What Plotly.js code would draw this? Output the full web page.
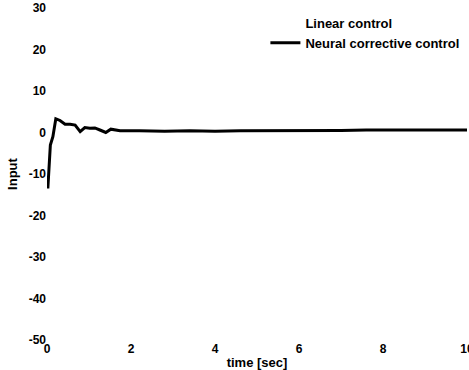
<!DOCTYPE html>
<html>
<head>
<meta charset="utf-8">
<script src="https://cdn.plot.ly/plotly-3.0.1.min.js"></script>
<style>html,body{margin:0;padding:0;background:#fff;}#chart{width:469px;height:370px;}</style>
</head>
<body>
<div id="chart"></div>
<script>
const time = [0.02, 0.05, 0.08, 0.14, 0.21, 0.31, 0.43, 0.55, 0.67, 0.79, 0.90, 1.02, 1.14, 1.26, 1.40, 1.52, 1.74, 2.2, 2.8, 3.4, 4.0, 4.6, 5.2, 5.8, 6.4, 7.0, 7.6, 8.2, 8.8, 9.4, 10.0];
const neuralInput = [-13.5, -8.5, -3, -1, 3.3, 2.9, 2.0, 2.0, 1.8, 0.2, 1.2, 1.0, 1.1, 0.6, 0.0, 0.8, 0.4, 0.4, 0.3, 0.4, 0.3, 0.4, 0.4, 0.4, 0.5, 0.5, 0.6, 0.6, 0.7, 0.7, 0.6];
const linearTime = [null];
const linearInput = [null];
const xTicks = [0, 2, 4, 6, 8, 10];
const yTicks = [-50, -40, -30, -20, -10, 0, 10, 20, 30];

const base = 'Arial, "Liberation Sans", sans-serif';
const tickF = {family: base, size: 12, color: '#000', weight: 'bold'};
const textF = {family: base, size: 13, color: '#000', weight: 'bold'};

const traces = [
  {x: linearTime, y: linearInput, type: 'scatter', mode: 'lines', name: 'Linear control',
   line: {color: 'rgba(0,0,0,0)', width: 3}},
  {x: time, y: neuralInput, type: 'scatter', mode: 'lines', name: 'Neural corrective control',
   line: {color: '#000', width: 3}}
];

const layout = {
  width: 469, height: 370,
  margin: {l: 47, r: 2, t: 8, b: 30},
  paper_bgcolor: '#fff', plot_bgcolor: '#fff',
  font: textF,
  showlegend: true,
  legend: {x: 0.52, y: 1.0, xanchor: 'left', yanchor: 'top', bgcolor: 'rgba(0,0,0,0)', font: textF, tracegroupgap: 0},
  xaxis: {range: [0, 10], tickvals: xTicks, ticktext: xTicks.map(String), showgrid: false, zeroline: false,
          showline: false, ticks: '', tickfont: tickF, ticklabeloverflow: 'allow',
          title: {text: 'time [sec]', font: textF, standoff: 2}},
  yaxis: {range: [-50, 30], tickvals: yTicks, ticktext: yTicks.map(String), showgrid: false, zeroline: false,
          showline: false, ticks: '', tickfont: tickF,
          title: {text: 'Input', font: textF, standoff: 8}}
};

Plotly.newPlot('chart', traces, layout, {displayModeBar: false, staticPlot: true});
</script>
</body>
</html>
